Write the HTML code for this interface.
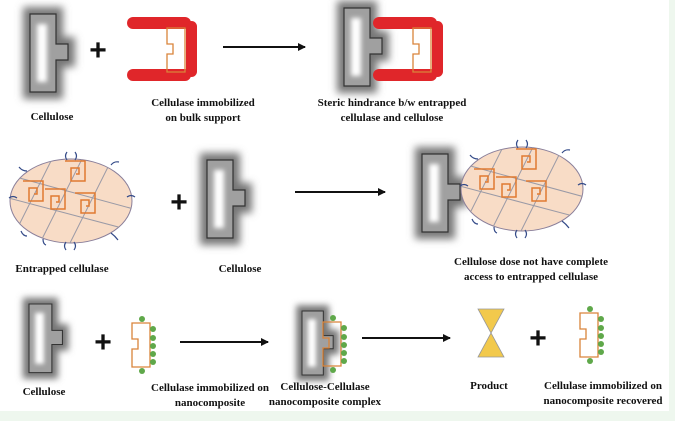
<!DOCTYPE html>
<html><head><meta charset="utf-8"><style>
html,body{margin:0;padding:0;background:#eef7ee}
svg{display:block}
text{font-family:"Liberation Serif",serif;font-weight:bold;font-size:11px;fill:#111;text-anchor:middle}
.p{font-family:"Liberation Sans",sans-serif;font-size:30px;font-weight:900}
</style></head><body>
<svg width="675" height="421" viewBox="0 0 675 421" xmlns="http://www.w3.org/2000/svg">
<defs>
<filter id="b" x="-100%" y="-60%" width="300%" height="220%"><feGaussianBlur stdDeviation="4"/></filter>
<filter id="b2" x="-80%" y="-50%" width="260%" height="200%"><feGaussianBlur stdDeviation="2.5"/></filter>
<marker id="ar" markerWidth="8" markerHeight="8" refX="7" refY="4" orient="auto" markerUnits="userSpaceOnUse"><path d="M0,0 L8,4 L0,8z" fill="#111"/></marker>
<g id="cel">
<path d="M-7,-7 H33 V23 H45 V53 H33 V85 H-7z" fill="#777" filter="url(#b)"/>
<path d="M0,0 H26 V30 H38 V46 H26 V78 H0z" fill="#a0a0a0" stroke="#333" stroke-width="1.2"/>
<rect x="7" y="10" width="10" height="58" fill="#fff" filter="url(#b2)"/>
</g>
<g id="enz" fill="none" stroke="#d9843a" stroke-width="1.3">
<path d="M0,0 H18 V44 H0 V26 H6 V16 H0z"/>
</g>
<g id="nano">
<use href="#enz"/>
<g fill="#5fa84a"><circle cx="21" cy="6" r="3"/><circle cx="21" cy="15" r="3"/><circle cx="21" cy="23" r="3"/><circle cx="21" cy="31" r="3"/><circle cx="21" cy="39" r="3"/><circle cx="10" cy="-4" r="3"/><circle cx="10" cy="48" r="3"/></g>
</g>
<g id="red" fill="#e0262a">
<rect x="0" y="0" width="64" height="12" rx="6"/>
<rect x="0" y="52" width="64" height="12" rx="6"/>
<rect x="59" y="4" width="11" height="56" rx="5.5"/>
</g>
<g id="sp" fill="none" stroke="#e07a30" stroke-width="1.5">
<path d="M0,0 h20 v20 h-14 v-13 h8 v6 h-3"/>
</g>
<g id="ell">
<clipPath id="ec"><ellipse cx="0" cy="0" rx="61" ry="42"/></clipPath>
<ellipse cx="0" cy="0" rx="61" ry="42" fill="#f8dcc6" stroke="#8a7f9a" stroke-width="1"/>
<g clip-path="url(#ec)" stroke="#9a9aa6" stroke-width="1">
<line x1="-70" y1="-28" x2="70" y2="10"/><line x1="-70" y1="-5" x2="70" y2="32"/>
<line x1="-35" y1="50" x2="15" y2="-50"/><line x1="-5" y1="50" x2="45" y2="-50"/><line x1="-65" y1="50" x2="-15" y2="-50"/>
</g>
<use href="#sp" x="-48" y="-20"/><use href="#sp" x="-6" y="-40"/>
<use href="#sp" x="-26" y="-12"/><use href="#sp" x="4" y="-8"/>
<g fill="none" stroke="#334a88" stroke-width="1.2">
<path d="M-4,-49 q-3,4 0,8 M4,-49 q3,4 0,8"/>
<path d="M-5,41 q-3,4 0,8 M3,41 q3,4 0,8"/>
<path d="M-62,-3 q4,-3 8,0"/><path d="M56,-4 q4,-3 8,0"/>
<path d="M-52,-34 q3,4 8,4"/><path d="M40,-36 q3,-4 8,-3"/>
<path d="M-50,30 q2,5 6,5"/><path d="M40,32 q4,3 7,7"/><path d="M-28,38 q0,5 3,6"/>
</g>
</g>
</defs>
<rect x="0" y="0" width="669" height="411" fill="#fff"/>

<!-- row 1 -->
<use href="#cel" x="30" y="14"/>
<text x="98" y="60" class="p">+</text>
<use href="#red" x="127" y="17"/>
<use href="#enz" x="167" y="28"/>
<line x1="223" y1="47" x2="305" y2="47" stroke="#111" stroke-width="2" marker-end="url(#ar)"/>
<use href="#cel" x="344" y="8"/>
<use href="#red" x="373" y="17"/>
<use href="#enz" x="413" y="28"/>
<text x="52" y="120">Cellulose</text>
<text x="203" y="106">Cellulase immobilized</text>
<text x="203" y="121">on bulk support</text>
<text x="392" y="106">Steric hindrance b/w entrapped</text>
<text x="392" y="121">cellulase and cellulose</text>

<!-- row 2 -->
<use href="#ell" x="71" y="201"/>
<text x="179" y="212" class="p">+</text>
<use href="#cel" x="207" y="160"/>
<line x1="295" y1="192" x2="385" y2="192" stroke="#111" stroke-width="2" marker-end="url(#ar)"/>
<use href="#cel" x="422" y="154"/>
<use href="#ell" x="522" y="189"/>
<text x="62" y="272">Entrapped cellulase</text>
<text x="240" y="272">Cellulose</text>
<text x="531" y="265">Cellulose dose not have complete</text>
<text x="531" y="280">access to entrapped cellulase</text>

<!-- row 3 -->
<g transform="translate(29,304) scale(0.88)"><use href="#cel"/></g>
<text x="103" y="352" class="p">+</text>
<use href="#nano" x="132" y="323"/>
<line x1="180" y1="342" x2="268" y2="342" stroke="#111" stroke-width="2" marker-end="url(#ar)"/>
<g transform="translate(302,311) scale(0.82)"><use href="#cel"/></g>
<use href="#nano" x="323" y="322"/>
<line x1="362" y1="338" x2="450" y2="338" stroke="#111" stroke-width="2" marker-end="url(#ar)"/>
<path d="M478,309 H504 L491,333 L504,357 H478 L491,333z" fill="#f2c94c" stroke="#999" stroke-width="0.8"/>
<text x="538" y="348" class="p">+</text>
<use href="#nano" x="580" y="313"/>
<text x="44" y="395">Cellulose</text>
<text x="210" y="391">Cellulase immobilized on</text>
<text x="210" y="406">nanocomposite</text>
<text x="325" y="390">Cellulose-Cellulase</text>
<text x="325" y="405">nanocomposite complex</text>
<text x="489" y="389">Product</text>
<text x="603" y="389">Cellulase immobilized on</text>
<text x="603" y="404">nanocomposite recovered</text>
</svg>
</body></html>
